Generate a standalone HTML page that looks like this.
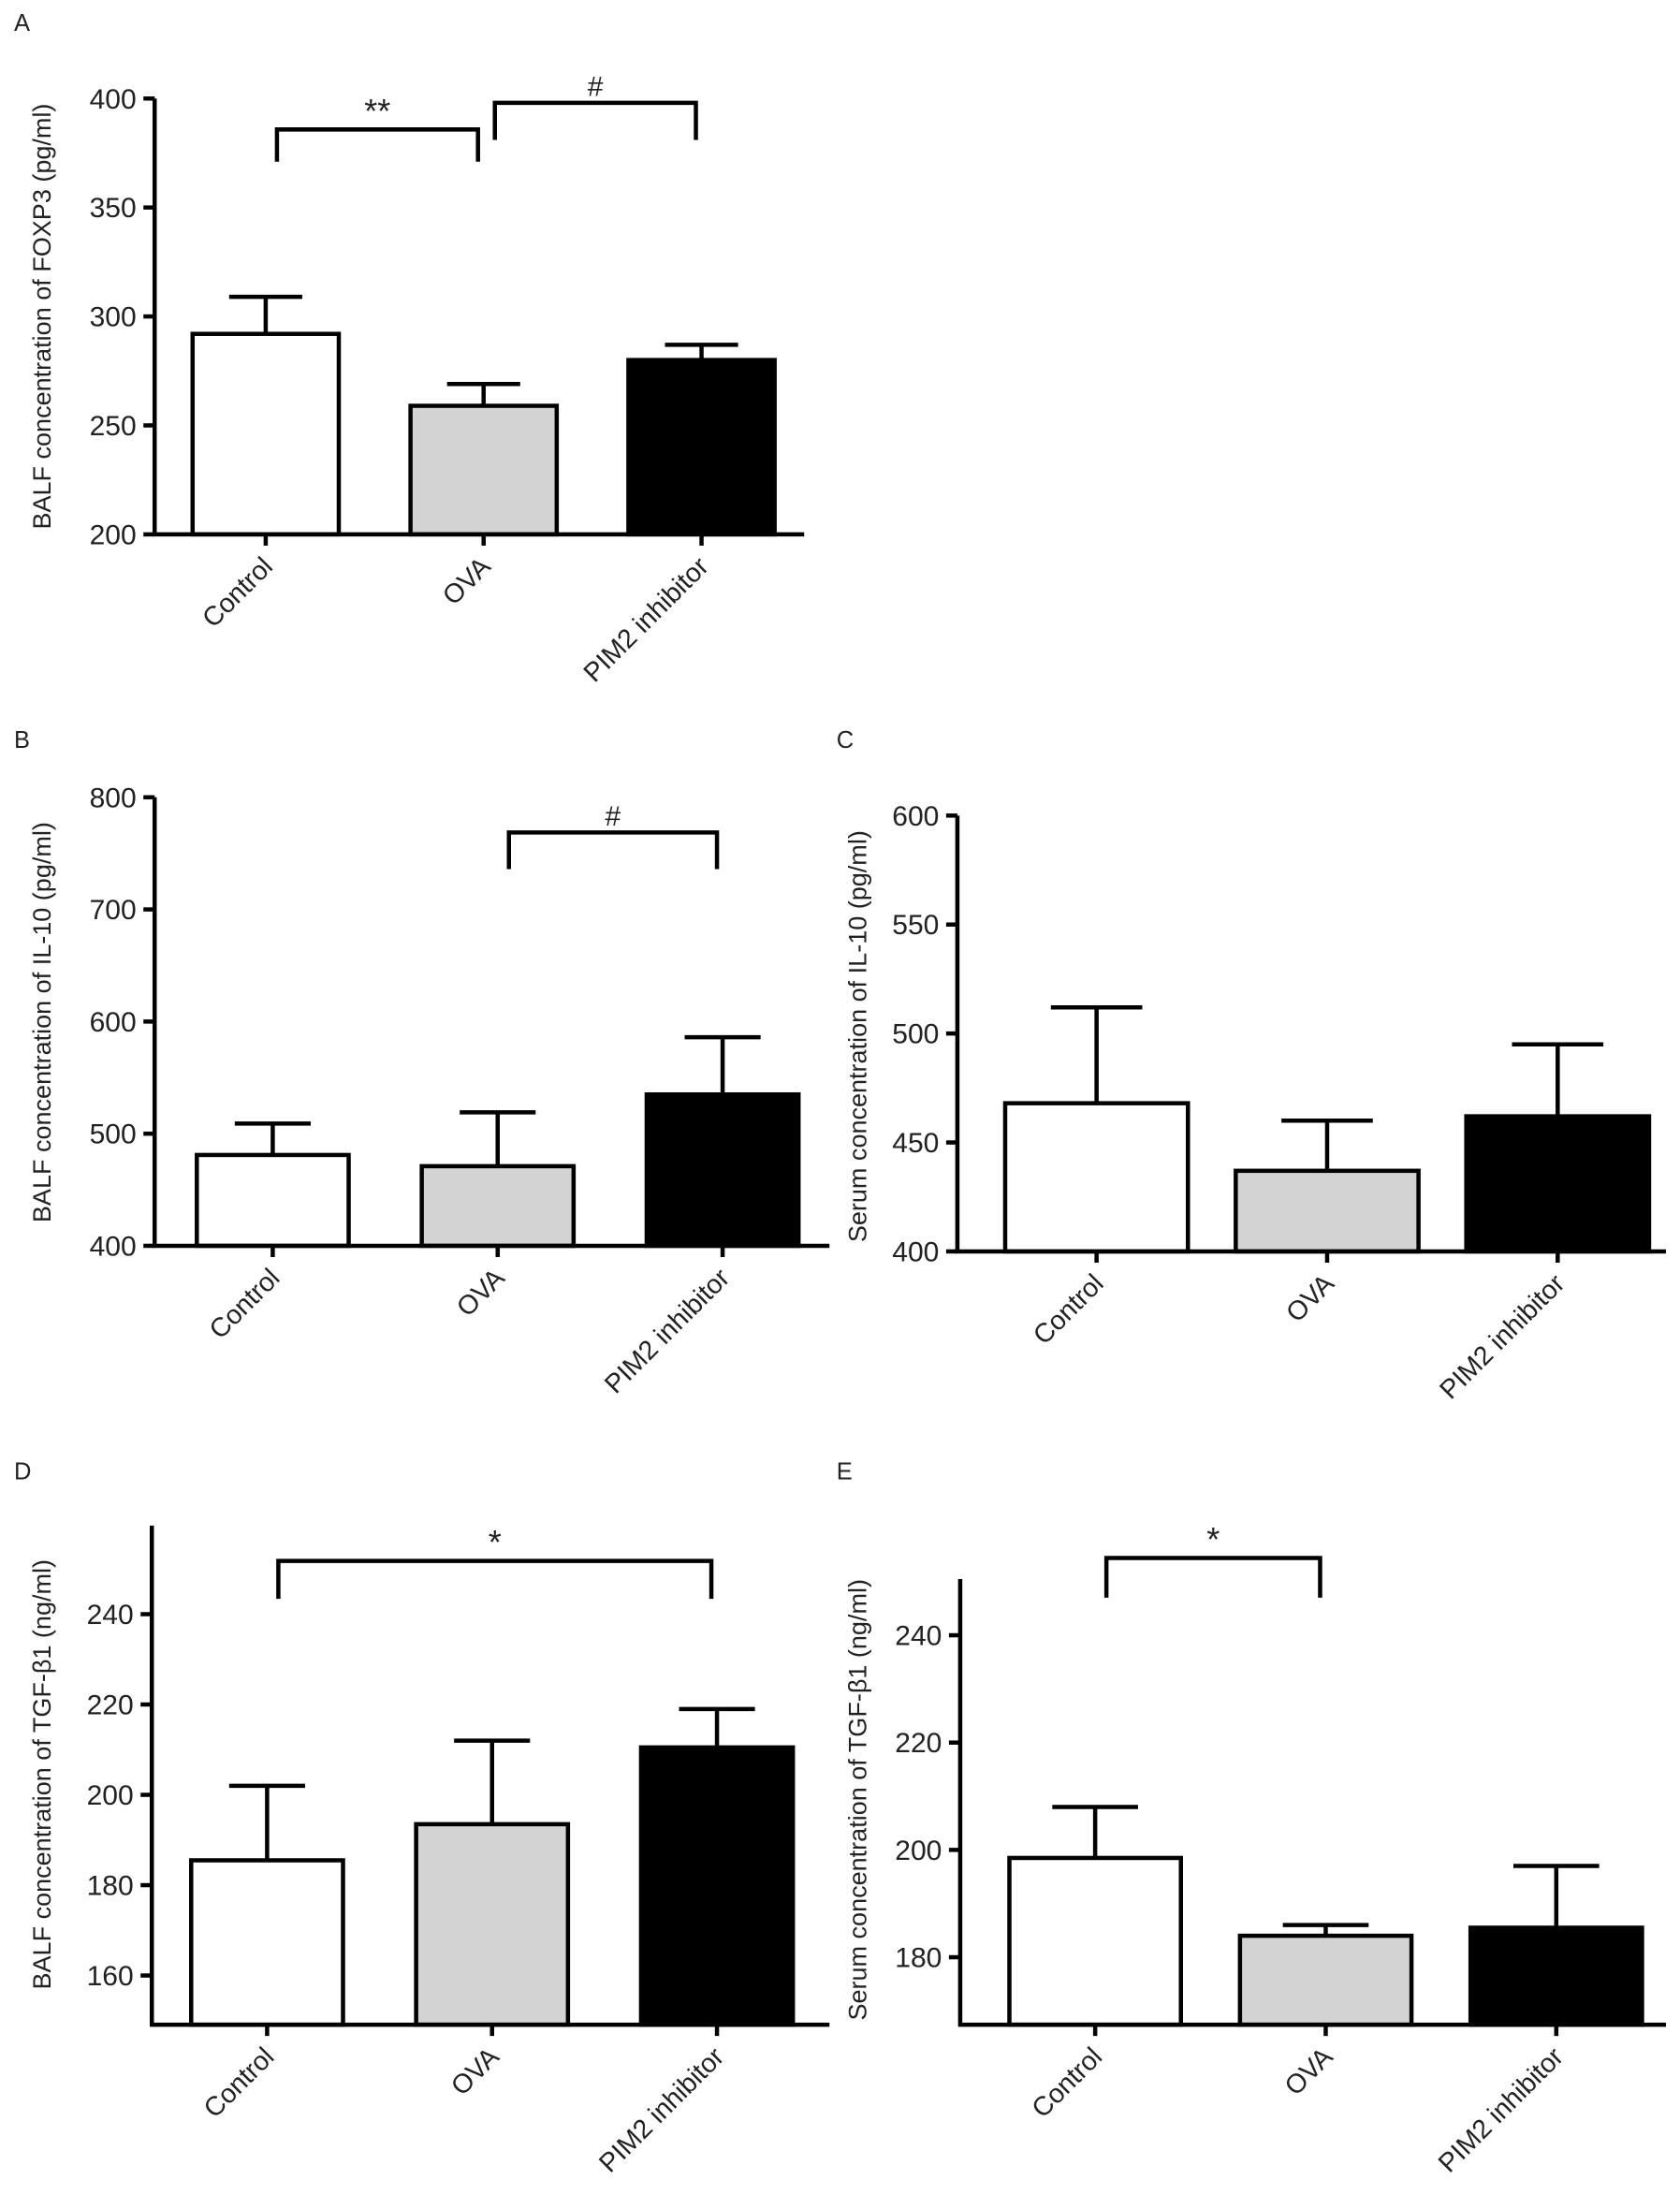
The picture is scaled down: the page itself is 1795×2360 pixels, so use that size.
<!DOCTYPE html>
<html><head><meta charset="utf-8"><style>
html,body{margin:0;padding:0;background:#fff}
svg{display:block}
text{font-family:"Liberation Sans",Arial,sans-serif;fill:#222}
</style></head><body>
<svg id="fig" width="1795" height="2360" viewBox="0 0 1195 1571" xmlns="http://www.w3.org/2000/svg"></svg>
<script>
const categories = ["Control","OVA","PIM2 inhibitor"];
const fills = ["#ffffff","#d3d3d3","#000000"];
// panel A: BALF FOXP3
const meansA = [292,259,280];
const errsA = [309,269,287];
const ticksA = [200,250,300,350,400];
// panel B: BALF IL-10
const meansB = [481,471,535];
const errsB = [509,519,586];
const ticksB = [400,500,600,700,800];
// panel C: serum IL-10
const meansC = [468,437,462];
const errsC = [512,460,495];
const ticksC = [400,450,500,550,600];
// panel D: BALF TGF-b1
const meansD = [185.5,193.5,210.5];
const errsD = [202,212,219];
const ticksD = [160,180,200,220,240];
// panel E: serum TGF-b1
const meansE = [198.5,184,185.5];
const errsE = [208,186,197];
const ticksE = [180,200,220,240];
// significance brackets: [from index, to index, bracket value, leg value, label]
const sigA = [[0,1,385.8,371,"**"],[1,2,398,381,"#"]];
const sigB = [[1,2,768.6,736,"#"]];
const sigC = [];
const sigD = [[0,2,251.8,243.4,"*"]];
const sigE = [[0,1,254.4,247,"*"]];

const NS="http://www.w3.org/2000/svg";
const svg=document.getElementById('fig');
function mk(tag,attrs,parent){const e=document.createElementNS(NS,tag);for(const k in attrs)e.setAttribute(k,attrs[k]);(parent||svg).appendChild(e);return e;}

const panels=[
 {id:"a",letter:"A",lx:10,ly:22,axisX:110,axisEnd:572,top:70,bottom:380,p1:[400,70],p2:[200,380],c0:189,sp:155,bw:104,means:meansA,errs:errsA,ticks:ticksA,sig:sigA,title:"BALF concentration of FOXP3 (pg/ml)",tx:36,ty:225},
 {id:"b",letter:"B",lx:10,ly:532,axisX:110,axisEnd:590,top:567,bottom:886,p1:[800,567],p2:[400,886],c0:194,sp:160,bw:108,means:meansB,errs:errsB,ticks:ticksB,sig:sigB,title:"BALF concentration of IL-10 (pg/ml)",tx:36,ty:727},
 {id:"c",letter:"C",lx:595,ly:532,axisX:681,axisEnd:1185,top:580,bottom:890,p1:[600,580],p2:[400,890],c0:780,sp:164,bw:130,means:meansC,errs:errsC,ticks:ticksC,sig:sigC,title:"Serum concentration of IL-10 (pg/ml)",tx:616,ty:737},
 {id:"d",letter:"D",lx:10,ly:1052,axisX:108,axisEnd:590,top:1085,bottom:1440,p1:[240,1148],p2:[160,1405],c0:190,sp:160,bw:108,means:meansD,errs:errsD,ticks:ticksD,sig:sigD,title:"BALF concentration of TGF-β1 (ng/ml)",tx:36,ty:1262},
 {id:"e",letter:"E",lx:595,ly:1052,axisX:683,axisEnd:1185,top:1123,bottom:1440,p1:[240,1163],p2:[180,1392],c0:779,sp:164,bw:122,means:meansE,errs:errsE,ticks:ticksE,sig:sigE,title:"Serum concentration of TGF-β1 (ng/ml)",tx:616,ty:1280}
];
const SW=3;
panels.forEach(p=>{
  const g=mk('g',{});
  
  
  const y=v=>p.p2[1]+(v-p.p2[0])*(p.p1[1]-p.p2[1])/(p.p1[0]-p.p2[0]);
  const x=i=>p.c0+i*p.sp;
  const L=mk('text',{x:p.lx,y:p.ly,'font-size':17},g);L.textContent=p.letter;
  
  
  p.means.forEach((m,i)=>{
    const cx=x(i),hw=p.bw/2,ty=y(m),ey=y(p.errs[i]);
    const eb=mk('path',{d:`M${cx} ${ty} V${ey} M${cx-hw*0.5} ${ey} H${cx+hw*0.5}`,stroke:'#000','stroke-width':SW,fill:'none'},g);
    
    
    const r=mk('rect',{x:cx-hw,y:ty,width:p.bw,height:p.bottom-ty,fill:fills[i],stroke:'#000','stroke-width':SW},g);
    
    
    const tk=mk('line',{x1:cx,x2:cx,y1:p.bottom,y2:p.bottom+8,stroke:'#000','stroke-width':SW},g);
    
    
    const lx=cx+6,ly=p.bottom+24;
    const t=mk('text',{x:lx,y:ly,'font-size':19,'text-anchor':'end',transform:`rotate(-45 ${lx} ${ly})`},g);
    t.textContent=categories[i];
    
    
  });
  const ax=mk('path',{d:`M${p.axisX} ${p.top} V${p.bottom} H${p.axisEnd}`,stroke:'#000','stroke-width':SW,fill:'none'},g);
  
  
  p.ticks.forEach(v=>{
    const ty=y(v);
    const tl=mk('line',{x1:p.axisX-8,x2:p.axisX,y1:ty,y2:ty,stroke:'#000','stroke-width':SW},g);
    
    
    const tt=mk('text',{x:p.axisX-13,y:ty+7,'font-size':20,'text-anchor':'end'},g);
    tt.textContent=v;
    
    
  });
  const yt=mk('text',{x:p.tx,y:p.ty,'font-size':18,'text-anchor':'middle',transform:`rotate(-90 ${p.tx} ${p.ty})`},g);
  yt.textContent=p.title;
  
  
  p.sig.forEach(s=>{
    const x1=x(s[0])+8,x2=x(s[1])-4,by=y(s[2]),ly=y(s[3]);
    const b=mk('path',{d:`M${x1} ${ly} V${by} H${x2} V${ly}`,stroke:'#000','stroke-width':SW,fill:'none'},g);
    
    
    const st=mk('text',{x:(x1+x2)/2,y:by-5,'font-size':s[4]==='#'?20:24,'text-anchor':'middle'},g);
    st.textContent=s[4];
    
    
  });
});
</script>
</body></html>
